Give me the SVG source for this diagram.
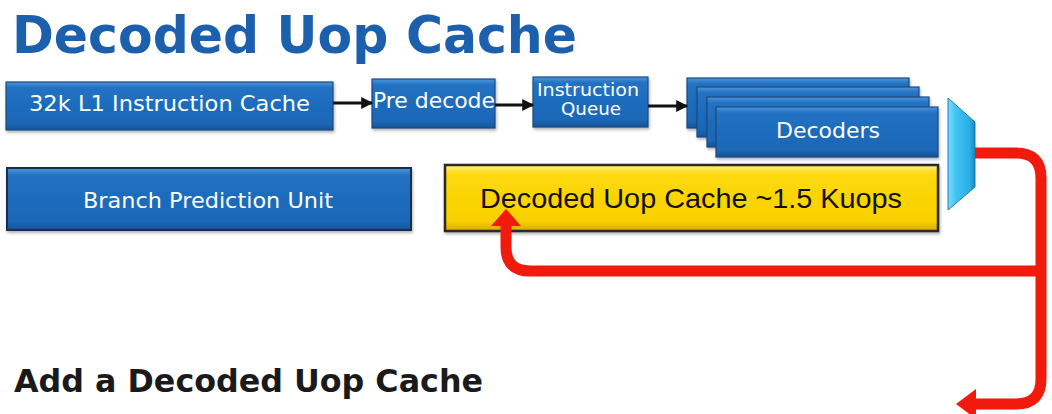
<svg xmlns="http://www.w3.org/2000/svg" width="1052" height="414" viewBox="0 0 1052 414">
  <style>
    .blue { fill: url(#blueFill); stroke: #1b4a80; stroke-width: 1.2; filter: url(#shadow); }
    .blue-dark { fill: url(#blueFill); stroke: #1a2e48; stroke-width: 2; filter: url(#shadow); }
    .label { font-family: "DejaVu Sans", Verdana, sans-serif; fill: #ffffff; text-anchor: middle; }
    .title { font-family: "DejaVu Sans", Verdana, sans-serif; font-weight: bold; }
    .flow { stroke: #111111; stroke-width: 3; fill: none; marker-end: url(#blackHead); }
    .loop { stroke: #f21a0c; stroke-width: 11; fill: none; stroke-linejoin: round; }
  </style>
  <defs>
    <linearGradient id="blueFill" x1="0" y1="0" x2="0" y2="1">
      <stop offset="0" stop-color="#4d95dc"/>
      <stop offset="0.12" stop-color="#2171c2"/>
      <stop offset="0.85" stop-color="#1c67b7"/>
      <stop offset="1" stop-color="#155599"/>
    </linearGradient>
    <linearGradient id="yellowFill" x1="0" y1="0" x2="0" y2="1">
      <stop offset="0" stop-color="#fff07a"/>
      <stop offset="0.15" stop-color="#fdd90a"/>
      <stop offset="0.85" stop-color="#f9d000"/>
      <stop offset="1" stop-color="#d9a800"/>
    </linearGradient>
    <linearGradient id="muxFill" x1="0" y1="0" x2="1" y2="0">
      <stop offset="0" stop-color="#7fdcff"/>
      <stop offset="0.3" stop-color="#3fc3f3"/>
      <stop offset="0.8" stop-color="#2aaee3"/>
      <stop offset="1" stop-color="#1a86c0"/>
    </linearGradient>
    <filter id="shadow" x="-5%" y="-10%" width="110%" height="130%">
      <feDropShadow dx="1" dy="2" stdDeviation="1.5" flood-color="#000000" flood-opacity="0.3"/>
    </filter>
    <marker id="blackHead" viewBox="0 0 10 10" refX="9" refY="5" markerUnits="userSpaceOnUse" markerWidth="14" markerHeight="12" orient="auto">
      <path d="M0,0 L10,5 L0,10 z" fill="#111111"/>
    </marker>
  </defs>

  <!-- headings -->
  <text class="title" x="12" y="53" font-size="51" fill="#1b5fad" textLength="565" lengthAdjust="spacingAndGlyphs">Decoded Uop Cache</text>
  <text class="title" x="14" y="392" font-size="32" fill="#1a1a1a" textLength="469" lengthAdjust="spacingAndGlyphs">Add a Decoded Uop Cache</text>

  <!-- front-end blocks -->
  <g id="l1-icache">
    <rect class="blue" x="6" y="82" width="327" height="48"/>
    <text class="label" x="169.5" y="111" font-size="22" textLength="281" lengthAdjust="spacingAndGlyphs">32k L1 Instruction Cache</text>
  </g>

  <g id="predecode">
    <rect class="blue" x="372" y="79" width="123" height="49"/>
    <text class="label" x="434" y="108" font-size="22" textLength="122" lengthAdjust="spacingAndGlyphs">Pre decode</text>
  </g>

  <g id="instruction-queue">
    <rect class="blue" x="533" y="77" width="115" height="50"/>
    <text class="label" x="588" y="96" font-size="17" textLength="102" lengthAdjust="spacingAndGlyphs">Instruction</text>
    <text class="label" x="591" y="115" font-size="17" textLength="60" lengthAdjust="spacingAndGlyphs">Queue</text>
  </g>

  <g id="decoders">
    <rect class="blue" x="687" y="78" width="222" height="50"/>
    <rect class="blue" x="697" y="87" width="222" height="50"/>
    <rect class="blue" x="707" y="97" width="222" height="50"/>
    <rect class="blue" x="716" y="107" width="222" height="50"/>
    <text class="label" x="828" y="138" font-size="22" textLength="104" lengthAdjust="spacingAndGlyphs">Decoders</text>
  </g>

  <g id="mux">
    <polygon points="948,98 975,122 975,187 948,210" fill="url(#muxFill)" stroke="#1b7fb5" stroke-width="1"/>
  </g>

  <g id="branch-prediction">
    <rect class="blue-dark" x="7" y="168" width="404" height="62"/>
    <text class="label" x="208" y="208" font-size="22" textLength="250" lengthAdjust="spacingAndGlyphs">Branch Prediction Unit</text>
  </g>

  <g id="uop-cache">
    <rect x="445" y="165" width="493" height="66" fill="url(#yellowFill)" stroke="#2b2b2b" stroke-width="2.5" filter="url(#shadow)"/>
    <text x="480" y="208" font-family="'Liberation Sans', Arial, sans-serif" font-size="28" fill="#111111" textLength="422" lengthAdjust="spacingAndGlyphs">Decoded Uop Cache ~1.5 Kuops</text>
  </g>

  <!-- connectors -->
  <g id="connectors">
    <line class="flow" x1="333" y1="103" x2="372" y2="103"/>
    <line class="flow" x1="495" y1="105" x2="533" y2="105"/>
    <line class="flow" x1="648" y1="106" x2="687" y2="106"/>

    <!-- uop fill path and output path -->
    <path class="loop" d="M975,153 H1016 Q1041,153 1041,178 V379 Q1041,404 1016,404 H972"/>
    <path class="loop" d="M1041,271 H530 Q506,271 506,247 V222"/>
    <polygon points="506,209 521,226 491,226" fill="#f21a0c"/>
    <polygon points="956,404 976,389 976,419" fill="#f21a0c"/>
  </g>
</svg>
